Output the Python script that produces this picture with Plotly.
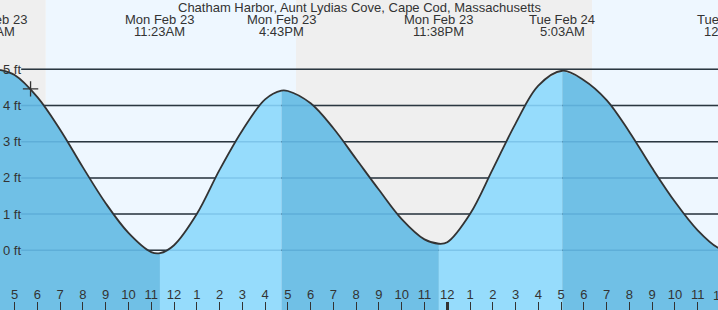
import plotly.graph_objects as go

# ---------------- data (hours since Mon Feb 23 00:00, heights in ft) ----------------
EVENT_T = [4.05, 11.383, 16.717, 23.633, 29.05, 36.42]
EVENT_H = [5.00, -0.08, 4.41, 0.18, 4.96, 0.00]
EVENT_DAY = ["Mon Feb 23", "Mon Feb 23", "Mon Feb 23", "Mon Feb 23", "Tue Feb 24", "Tue Feb 24"]
EVENT_CLOCK = ["4:03AM", "11:23AM", "4:43PM", "11:38PM", "5:03AM", "12:25PM"]

READ_T = [4.36, 5, 6, 7, 8, 9, 10, 11, 12, 13, 14, 15, 16, 17, 18, 19, 20, 21, 22, 23,
          24, 25, 26, 27, 28, 30, 31, 32, 33, 34, 35, 35.89]
READ_H = [4.98, 4.84, 4.23, 3.33, 2.29, 1.30, 0.48, -0.05, 0.14, 1.00, 2.22, 3.31, 4.17,
          4.40, 4.06, 3.37, 2.52, 1.67, 0.86, 0.30, 0.22, 1.00, 2.24, 3.50, 4.55, 4.70,
          4.15, 3.27, 2.27, 1.34, 0.55, 0.07]

BAND_START = [0.0, 6.37, 17.36, 30.36]
BAND_END = [6.37, 17.36, 30.36, 48.0]
BAND_KIND = ["night", "day", "night", "day"]

HOUR_T = list(range(5, 37))
HOUR_LABEL = ["5", "6", "7", "8", "9", "10", "11", "12", "1", "2", "3", "4", "5", "6", "7",
              "8", "9", "10", "11", "12", "1", "2", "3", "4", "5", "6", "7", "8", "9", "10",
              "11", "12"]
MIDNIGHT_T = [24]

FT_VALS = [0, 1, 2, 3, 4, 5]
FT_LABELS = ["0 ft", "1 ft", "2 ft", "3 ft", "4 ft", "5 ft"]

NOW_T = [5.70]
NOW_H = [4.46]

TITLE = "Chatham Harbor, Aunt Lydias Cove, Cape Cod, Massachusetts"

# ---------------- styles ----------------
X0, X1 = 4.358, 35.891
Y0, Y1 = -1.650, 6.914
FLOOR = Y0 - 2
FONT = "Liberation Sans, Arial, Helvetica, sans-serif"
TXT = "#333333"
NIGHT = "#efefef"
DAY = "#eef7ff"
FALLING = "#70c0e6"
RISING = "#96dcfc"

# merge readings with extremes
pts = sorted(list(zip(READ_T, READ_H)) + list(zip(EVENT_T, EVENT_H)))
ALL_T = [p[0] for p in pts]
ALL_H = [p[1] for p in pts]

fig = go.Figure()

for i in range(len(EVENT_T) - 1):
    ta, tb = EVENT_T[i], EVENT_T[i + 1]
    seg = [(t, h) for t, h in pts if ta <= t <= tb]
    color = RISING if EVENT_H[i + 1] > EVENT_H[i] else FALLING
    fig.add_trace(go.Scatter(x=[ta, tb], y=[FLOOR, FLOOR], mode="lines",
                             line=dict(width=0, color=color), hoverinfo="skip",
                             showlegend=False))
    fig.add_trace(go.Scatter(x=[p[0] for p in seg], y=[p[1] for p in seg], mode="lines",
                             line=dict(width=0, color=color, shape="spline", smoothing=1),
                             fill="tonexty", fillcolor=color, hoverinfo="skip",
                             showlegend=False))

fig.add_trace(go.Scatter(x=ALL_T, y=ALL_H, mode="lines",
                         line=dict(color="#333333", width=1.8, shape="spline", smoothing=1),
                         hoverinfo="skip", showlegend=False))

fig.add_trace(go.Scatter(x=NOW_T, y=NOW_H, mode="markers", xaxis="x2", yaxis="y2",
                         marker=dict(symbol="cross-thin", size=11,
                                     line=dict(color="#333333", width=1.3)),
                         hoverinfo="skip", showlegend=False))

shapes = []
for s, e, k in zip(BAND_START, BAND_END, BAND_KIND):
    shapes.append(dict(type="rect", xref="x", yref="paper", x0=s, x1=e, y0=0, y1=1,
                       fillcolor=NIGHT if k == "night" else DAY, line=dict(width=0),
                       layer="below"))
for v in FT_VALS:
    shapes.append(dict(type="line", xref="paper", yref="y", x0=0.0295, x1=1, y0=v, y1=v,
                       line=dict(color="#333333", width=1.5), layer="below"))
for v in FT_VALS:
    shapes.append(dict(type="line", xref="paper", yref="y", x0=0.0295, x1=1, y0=v, y1=v,
                       line=dict(color="rgba(0,80,140,0.16)", width=1.5), layer="above"))


def px(t):
    return (t - X0) / (X1 - X0)


annotations = [dict(text=TITLE, x=0.5, y=1 - 7.5 / 310, xref="paper", yref="paper",
                    showarrow=False, xanchor="center", yanchor="middle",
                    font=dict(family=FONT, size=13, color=TXT))]
for t, d, c in zip(EVENT_T, EVENT_DAY, EVENT_CLOCK):
    annotations.append(dict(text=d, x=px(t), y=1 - 20 / 310, xref="paper", yref="paper",
                            showarrow=False, xanchor="center", yanchor="middle",
                            font=dict(family=FONT, size=13, color=TXT)))
    annotations.append(dict(text=c, x=px(t), y=1 - 31.5 / 310, xref="paper", yref="paper",
                            showarrow=False, xanchor="center", yanchor="middle",
                            font=dict(family=FONT, size=13, color=TXT)))
# hour labels that fall just past the plotted range (partly visible at the edge)
for t, lab in zip(HOUR_T, HOUR_LABEL):
    if t > X1:
        annotations.append(dict(text=lab, x=px(t), y=1 - 295.5 / 310, xref="paper",
                                yref="paper", showarrow=False, xanchor="center",
                                yanchor="middle", font=dict(family=FONT, size=13, color=TXT)))

fig.update_layout(
    width=718, height=310,
    margin=dict(l=0, r=0, t=0, b=0, pad=0),
    paper_bgcolor="white", plot_bgcolor="rgba(0,0,0,0)",
    showlegend=False,
    shapes=shapes,
    annotations=annotations,
    xaxis=dict(range=[X0, X1], tickvals=HOUR_T, ticktext=HOUR_LABEL, ticks="inside",
               ticklen=8, tickwidth=1, tickcolor="#333333", ticklabelposition="inside",
               tickfont=dict(family=FONT, size=13, color=TXT), showgrid=False,
               zeroline=False, showline=False, fixedrange=True),
    xaxis2=dict(range=[X0, X1], overlaying="x", anchor="y2", side="bottom",
                tickvals=MIDNIGHT_T, ticks="inside", ticklen=8, tickwidth=3,
                tickcolor="#333333", showticklabels=False, showgrid=False,
                zeroline=False, showline=False, fixedrange=True),
    yaxis=dict(range=[Y0, Y1], showticklabels=False, ticks="",
               showgrid=False, zeroline=False, showline=False, fixedrange=True),
    yaxis2=dict(range=[Y0, Y1], overlaying="y", anchor="x2", side="left",
                tickvals=FT_VALS, ticktext=FT_LABELS, ticks="",
                ticklabelposition="inside", tickfont=dict(family=FONT, size=13, color=TXT),
                showgrid=False, zeroline=False, showline=False, fixedrange=True),
)

fig.write_html("out.html")
